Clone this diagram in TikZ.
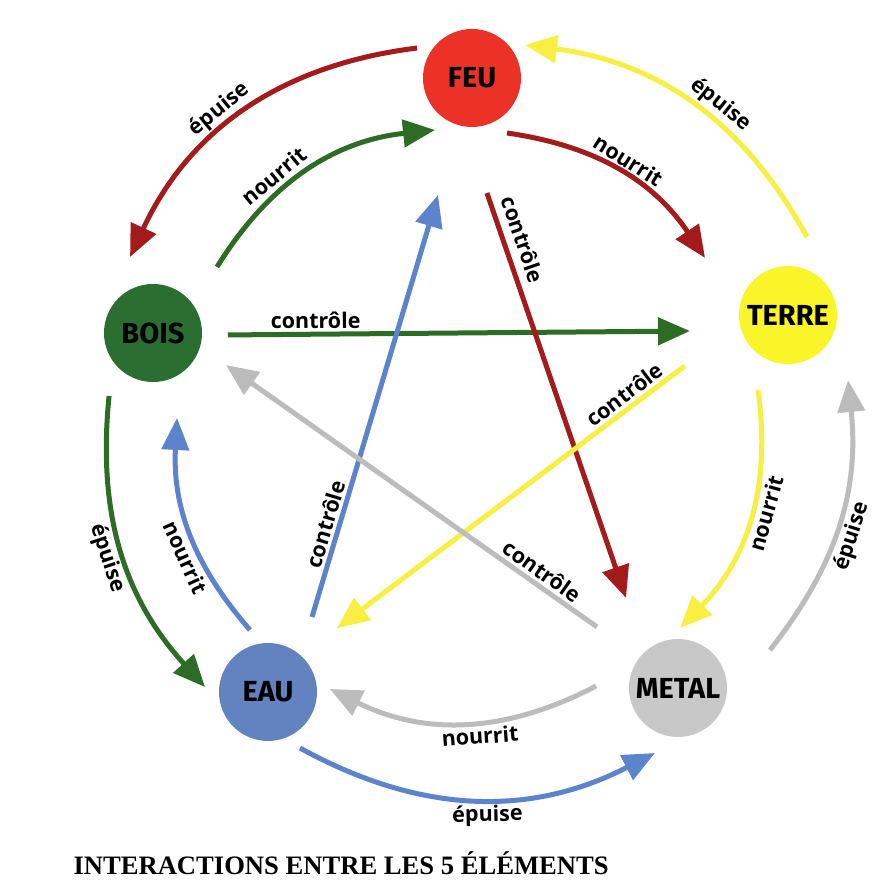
\documentclass[tikz,border=0pt]{standalone}
\usepackage{fontspec}
\setmainfont{Liberation Serif}
\newfontfamily\labelfont{Open Sans}
\newfontfamily\elemfont{Fira Sans}
\usetikzlibrary{arrows.meta,positioning}

\definecolor{feuRed}{RGB}{236,50,38}
\definecolor{terreYellow}{RGB}{250,245,40}
\definecolor{metalGrey}{RGB}{200,200,200}
\definecolor{eauBlue}{RGB}{98,130,192}
\definecolor{boisGreen}{RGB}{42,110,50}
\definecolor{redArrow}{RGB}{163,27,27}
\definecolor{greenArrow}{RGB}{45,108,36}
\definecolor{yellowArrow}{RGB}{249,238,66}
\definecolor{blueArrow}{RGB}{92,132,204}
\definecolor{greyArrow}{RGB}{188,188,188}

\begin{document}
\begin{tikzpicture}[x=1pt, y=1pt,
        elem/.style={circle, minimum size=98pt, inner sep=0pt, text=black,
            font=\elemfont\bfseries\fontsize{29}{30}\selectfont},
        rel/.style={line width=5pt, -{Triangle[length=32pt,width=27pt]}},
        lbl/.style={font=\labelfont\bfseries\fontsize{21.5}{23}\selectfont,
            text=black, sloped, inner sep=3pt}
    ]
        \useasboundingbox[fill=white] (0,0) rectangle (894,882);

        % Elements
        \node [elem, fill=feuRed] (feu) at (472,804) {FEU};
        \node [elem, fill=terreYellow] (terre) at (788,567) {TERRE};
        \node [elem, fill=metalGrey] (metal) at (678,194) {METAL};
        \node [elem, fill=eauBlue] (eau) at (268,190) {EAU};
        \node [elem, fill=boisGreen] (bois) at (153,549) {BOIS};

        % Inner cycle (nourrit)
        \draw[rel, draw=greenArrow] ([shift={(45.9:91.9)}]bois.center) to[bend left=26]
            node[lbl, pos=.38, above=2pt] {nourrit} ([shift={(234.6:63.8)}]feu.center);
        \draw[rel, draw=redArrow] ([shift={(-57.5:65.2)}]feu.center) to[bend left=24]
            node[lbl, pos=.5, above] {nourrit} ([shift={(145.5:100.7)}]terre.center);
        \draw[rel, draw=yellowArrow] ([shift={(248.2:80.8)}]terre.center) to[bend left=26]
            node[lbl, pos=.46, below] {nourrit} ([shift={(88:60)}]metal.center);
        \draw[rel, draw=greyArrow] ([shift={(178.6:82)}]metal.center) to[bend left=27]
            node[lbl, pos=.44, below] {nourrit} ([shift={(2.8:62)}]eau.center);
        \draw[rel, draw=blueArrow] ([shift={(106.2:64.6)}]eau.center) to[bend left=22]
            node[lbl, pos=.4, below] {nourrit} ([shift={(-74.2:88.3)}]bois.center);

        % Outer cycle (epuise)
        \draw[rel, draw=redArrow] ([shift={(151.4:62.6)}]feu.center) to[bend right=29]
            node[lbl, pos=.55, above] {épuise} ([shift={(106.8:79.4)}]bois.center);
        \draw[rel, draw=yellowArrow] ([shift={(76.3:80.3)}]terre.center) to[bend right=27]
            node[lbl, pos=.43, above] {épuise} ([shift={(31.9:62.4)}]feu.center);
        \draw[rel, draw=greyArrow] ([shift={(22.4:99.5)}]metal.center) to[bend right=22]
            node[lbl, pos=.47, below] {épuise} ([shift={(-47.3:88.5)}]terre.center);
        \draw[rel, draw=blueArrow] ([shift={(-60.3:64.5)}]eau.center) to[bend right=28]
            node[lbl, pos=.53, below] {épuise} ([shift={(250.5:69)}]metal.center);
        \draw[rel, draw=greenArrow] ([shift={(235.1:76.8)}]bois.center) to[bend right=24]
            node[lbl, pos=.5, below] {épuise} ([shift={(175.5:63.2)}]eau.center);

        % Star (controle)
        \draw[rel, draw=greenArrow] ([shift={(-1.5:75)}]bois.center) --
            node[lbl, pos=.19, above] {contrôle} ([shift={(189.3:99.3)}]terre.center);
        \draw[rel, draw=redArrow] ([shift={(-82.6:116)}]feu.center) --
            node[lbl, pos=.13, above=5pt] {contrôle} ([shift={(120:104)}]metal.center);
        \draw[rel, draw=yellowArrow] ([shift={(206.3:115)}]terre.center) --
            node[lbl, pos=.15, above] {contrôle} ([shift={(42.8:94)}]eau.center);
        \draw[rel, draw=blueArrow] ([shift={(59.6:87)}]eau.center) --
            node[lbl, pos=.21, above] {contrôle} ([shift={(253.8:121.8)}]feu.center);
        \draw[rel, draw=greyArrow] ([shift={(143:101.4)}]metal.center) --
            node[lbl, pos=.17, above] {contrôle} ([shift={(-23.7:79.7)}]bois.center);

        % Title
        \node[anchor=base west, font=\bfseries\fontsize{26.6}{28}\selectfont] (title) at (70,7)
            {INTERACTIONS ENTRE LES 5 ÉLÉMENTS};

    \end{tikzpicture}
\end{document}
